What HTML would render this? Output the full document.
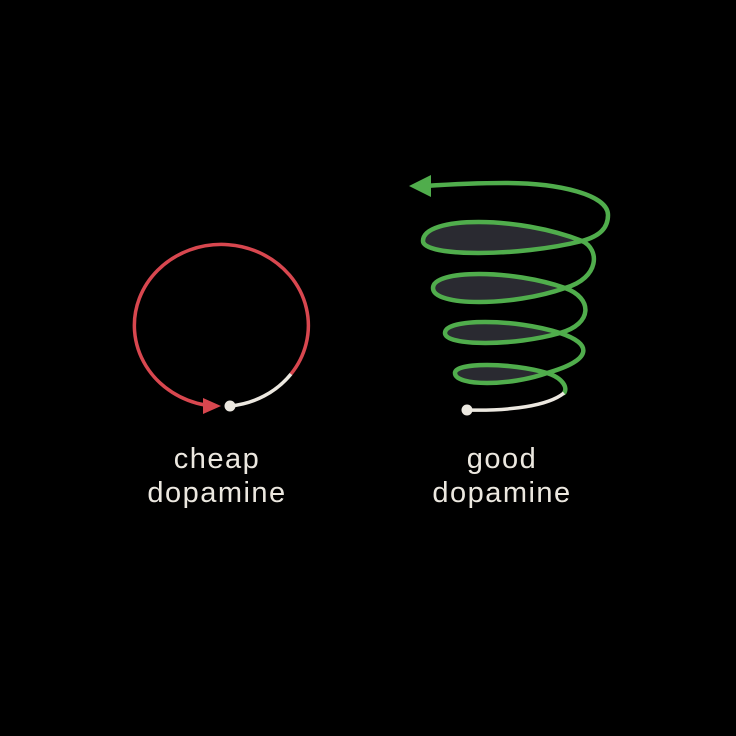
<!DOCTYPE html>
<html><head><meta charset="utf-8"><style>
html,body{margin:0;padding:0;background:#000;}
svg{display:block;}
text{font-family:"Liberation Sans",sans-serif;font-size:29px;fill:#ece8e0;letter-spacing:1.5px;}
</style></head><body>
<svg width="736" height="736" viewBox="0 0 736 736" xmlns="http://www.w3.org/2000/svg">
<rect width="736" height="736" fill="#000"/>
<!-- cheap loop -->
<path d="M291,374 A87,81 0 1 0 205,405" fill="none" stroke="#d8474f" stroke-width="3.5"/>
<polygon points="221,406 203,398 203,414" fill="#d8474f"/>
<path d="M230,406 A87,81 0 0 0 291,374" fill="none" stroke="#ece8e0" stroke-width="3.5"/>
<circle cx="230" cy="406" r="5.5" fill="#ece8e0"/>
<!-- spiral lens fills -->
<g fill="#2a2a31">
<path d="M547,373 C510,362.3 455,362.3 455,373 C455,386.3 510,386.3 547,373Z"/>
<path d="M560,333 C514,318.3 445,318.3 445,333 C445,346.3 514,346.3 560,333Z"/>
<path d="M565,288 C512,269.3 433,269.3 433,288 C433,306.7 512,306.7 565,288Z"/>
<path d="M582,241 C518,215.7 423,215.7 423,241 C423,257 518,257 582,241Z"/>
</g>
<path d="M564,393 C568,388 563,378 547,373
 C510,362.3 455,362.3 455,373 C455,386.3 510,386.3 547,373
 C593,360 593,344 560,333
 C514,318.3 445,318.3 445,333 C445,346.3 514,346.3 560,333
 C593,324 593,298 565,288
 C512,269.3 433,269.3 433,288 C433,306.7 512,306.7 565,288
 C600,278 600,249 582,241
 C518,215.7 423,215.7 423,241 C423,257 518,257 582,241
 C600,236 608,228 608,215
 C608,195 560,183 505,183 C470,183 440,185 425,186"
 fill="none" stroke="#50ad4c" stroke-width="4.5" stroke-linecap="round" stroke-linejoin="round"/>
<polygon points="409,186 431,175 431,197" fill="#50ad4c"/>
<path d="M467,410 C510,411 548,406 564,393" fill="none" stroke="#ece8e0" stroke-width="3.5"/>
<circle cx="467" cy="410" r="5.5" fill="#ece8e0"/>
<text x="217" y="468" text-anchor="middle">cheap</text>
<text x="217" y="502" text-anchor="middle">dopamine</text>
<text x="502" y="468" text-anchor="middle">good</text>
<text x="502" y="502" text-anchor="middle">dopamine</text>
</svg>
</body></html>
